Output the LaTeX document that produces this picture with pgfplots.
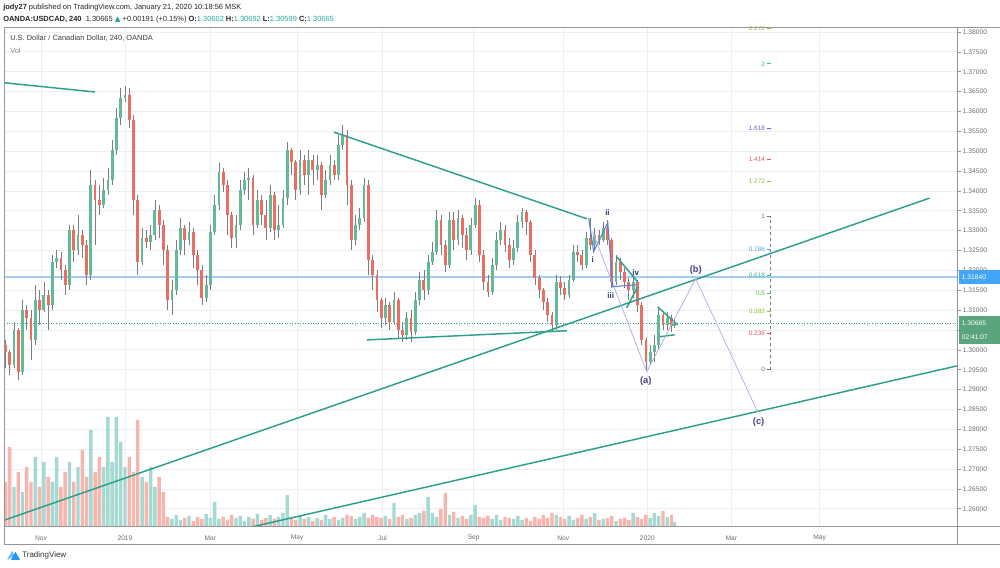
\documentclass[border=0pt]{standalone}
\usepackage{pgfplots}
\pgfplotsset{compat=1.18}
\usepackage{pgfplotstable}
\usepackage{fontspec}
\setmainfont{Liberation Sans}
\newfontfamily\symfont{DejaVu Sans}
\newcommand{\fs}[1]{\fontsize{#1}{#1}\selectfont}

\definecolor{upc}{RGB}{100,185,150}
\definecolor{dnc}{RGB}{235,110,100}
\definecolor{wick}{RGB}{125,125,125}
\definecolor{upv}{RGB}{165,218,210}
\definecolor{dnv}{RGB}{248,180,175}
\definecolor{trend}{RGB}{45,160,140}
\definecolor{gridc}{RGB}{236,238,242}
\definecolor{labc}{RGB}{110,110,110}
\definecolor{framec}{RGB}{150,150,150}
\definecolor{tvgreen}{RGB}{38,166,154}
\definecolor{hblue}{RGB}{160,205,245}
\definecolor{boxblue}{RGB}{66,165,245}
\definecolor{boxgreen}{RGB}{90,165,125}
\definecolor{wavepur}{RGB}{75,65,135}
\definecolor{wavenavy}{RGB}{40,60,115}
\definecolor{lav}{RGB}{185,175,235}
\definecolor{subblue}{RGB}{95,125,215}
\definecolor{fibgray}{RGB}{120,120,120}
\definecolor{fibred}{RGB}{228,90,90}
\definecolor{fibyg}{RGB}{150,195,60}
\definecolor{fibgreen}{RGB}{90,200,80}
\definecolor{fibteal}{RGB}{60,185,150}
\definecolor{fibblue}{RGB}{95,160,220}
\definecolor{fibviolet}{RGB}{100,100,220}
\definecolor{logoblue}{RGB}{33,150,243}

\pgfplotstableread{
d o h l c v
6 1.3013 1.3025 1.2955 1.2995 45
9 1.2995 1.3000 1.2937 1.2962 80
12 1.2962 1.3070 1.2955 1.3050 40
15 1.3050 1.3055 1.2925 1.2945 55
18 1.2945 1.3126 1.2937 1.3101 35
21 1.3101 1.3113 1.3050 1.3081 60
24 1.3081 1.3101 1.2975 1.3025 45
27 1.3025 1.3164 1.3013 1.3126 70
30 1.3126 1.3151 1.3063 1.3101 40
33 1.3101 1.3171 1.3096 1.3138 65
36 1.3138 1.3151 1.3050 1.3113 50
39 1.3113 1.3239 1.3101 1.3221 45
42 1.3221 1.3252 1.3206 1.3232 70
45 1.3232 1.3247 1.3176 1.3201 40
48 1.3201 1.3214 1.3138 1.3164 55
51 1.3164 1.3315 1.3151 1.3302 65
54 1.3302 1.3315 1.3221 1.3252 45
57 1.3252 1.3340 1.3239 1.3289 60
60 1.3289 1.3302 1.3232 1.3264 77
63 1.3264 1.3277 1.3164 1.3189 50
66 1.3189 1.3453 1.3176 1.3415 97
69 1.3415 1.3428 1.3264 1.3377 55
72 1.3377 1.3415 1.3340 1.3365 70
75 1.3365 1.3433 1.3357 1.3403 60
78 1.3403 1.3458 1.3390 1.3428 110
81 1.3428 1.3528 1.3415 1.3503 65
84 1.3503 1.3609 1.3491 1.3584 110
87 1.3584 1.3659 1.3566 1.3634 85
90 1.3634 1.3664 1.3624 1.3642 60
93 1.3642 1.3659 1.3558 1.3579 70
96 1.3579 1.3591 1.3340 1.3377 55
99 1.3377 1.3390 1.3189 1.3221 107
102 1.3221 1.3307 1.3214 1.3282 50
105 1.3282 1.3302 1.3257 1.3272 45
108 1.3272 1.3315 1.3252 1.3289 60
111 1.3289 1.3377 1.3277 1.3352 40
114 1.3352 1.3365 1.3282 1.3315 50
117 1.3315 1.3327 1.3214 1.3252 35
120 1.3252 1.3264 1.3101 1.3126 10
123 1.3126 1.3176 1.3088 1.3151 8
126 1.3151 1.3277 1.3138 1.3252 12
129 1.3252 1.3332 1.3239 1.3307 7
132 1.3307 1.3315 1.3239 1.3277 9
135 1.3277 1.3322 1.3264 1.3297 11
138 1.3297 1.3307 1.3206 1.3239 6
141 1.3239 1.3252 1.3164 1.3201 10
144 1.3201 1.3214 1.3113 1.3131 8
147 1.3131 1.3189 1.3121 1.3164 13
150 1.3164 1.3315 1.3151 1.3297 9
153 1.3297 1.3390 1.3289 1.3365 25
156 1.3365 1.3470 1.3352 1.3448 8
159 1.3448 1.3458 1.3398 1.3415 10
162 1.3415 1.3428 1.3289 1.3340 7
165 1.3340 1.3347 1.3257 1.3282 12
168 1.3282 1.3340 1.3257 1.3315 9
171 1.3315 1.3428 1.3302 1.3403 11
174 1.3403 1.3448 1.3390 1.3428 6
177 1.3428 1.3458 1.3377 1.3433 10
180 1.3433 1.3440 1.3289 1.3315 8
183 1.3315 1.3403 1.3307 1.3377 13
186 1.3377 1.3390 1.3315 1.3340 7
189 1.3340 1.3377 1.3277 1.3307 9
192 1.3307 1.3415 1.3297 1.3390 12
195 1.3390 1.3398 1.3277 1.3302 8
198 1.3302 1.3365 1.3282 1.3315 10
201 1.3315 1.3403 1.3307 1.3382 14
204 1.3382 1.3523 1.3365 1.3503 32
207 1.3503 1.3508 1.3440 1.3473 9
210 1.3473 1.3478 1.3377 1.3403 7
213 1.3403 1.3503 1.3390 1.3478 11
216 1.3478 1.3491 1.3415 1.3440 8
219 1.3440 1.3503 1.3390 1.3478 10
222 1.3478 1.3491 1.3415 1.3453 6
225 1.3453 1.3491 1.3428 1.3465 9
228 1.3465 1.3473 1.3352 1.3390 7
231 1.3390 1.3453 1.3382 1.3428 12
234 1.3428 1.3491 1.3415 1.3465 8
237 1.3465 1.3478 1.3428 1.3440 10
240 1.3440 1.3541 1.3428 1.3516 7
243 1.3516 1.3566 1.3503 1.3541 9
246 1.3541 1.3553 1.3365 1.3415 12
249 1.3415 1.3428 1.3252 1.3277 11
252 1.3277 1.3340 1.3264 1.3315 8
255 1.3315 1.3357 1.3302 1.3332 10
258 1.3332 1.3433 1.3322 1.3415 14
261 1.3415 1.3428 1.3189 1.3226 9
264 1.3226 1.3239 1.3151 1.3189 12
267 1.3189 1.3201 1.3096 1.3126 10
270 1.3126 1.3131 1.3055 1.3081 9
273 1.3081 1.3131 1.3063 1.3113 11
276 1.3113 1.3121 1.3050 1.3070 8
279 1.3070 1.3146 1.3063 1.3126 24
282 1.3126 1.3131 1.3030 1.3050 10
285 1.3050 1.3070 1.3020 1.3038 12
288 1.3038 1.3096 1.3025 1.3081 8
291 1.3081 1.3101 1.3020 1.3045 9
294 1.3045 1.3146 1.3038 1.3126 12
297 1.3126 1.3196 1.3113 1.3176 14
300 1.3176 1.3201 1.3126 1.3151 16
303 1.3151 1.3239 1.3138 1.3221 30
306 1.3221 1.3272 1.3214 1.3247 14
309 1.3247 1.3352 1.3239 1.3327 10
312 1.3327 1.3340 1.3239 1.3264 18
315 1.3264 1.3277 1.3196 1.3214 34
318 1.3214 1.3347 1.3206 1.3327 12
321 1.3327 1.3347 1.3252 1.3277 15
324 1.3277 1.3352 1.3264 1.3332 9
327 1.3332 1.3340 1.3257 1.3289 11
330 1.3289 1.3307 1.3226 1.3252 8
333 1.3252 1.3332 1.3239 1.3315 12
336 1.3315 1.3382 1.3307 1.3365 22
339 1.3365 1.3377 1.3221 1.3239 10
342 1.3239 1.3252 1.3151 1.3171 9
345 1.3171 1.3189 1.3133 1.3146 11
348 1.3146 1.3232 1.3138 1.3214 8
351 1.3214 1.3297 1.3201 1.3277 12
354 1.3277 1.3322 1.3264 1.3302 7
357 1.3302 1.3315 1.3247 1.3264 10
360 1.3264 1.3282 1.3206 1.3226 9
363 1.3226 1.3277 1.3214 1.3257 8
366 1.3257 1.3340 1.3247 1.3322 11
369 1.3322 1.3357 1.3307 1.3347 7
372 1.3347 1.3352 1.3289 1.3322 9
375 1.3322 1.3327 1.3221 1.3239 6
378 1.3239 1.3252 1.3164 1.3181 10
381 1.3181 1.3189 1.3131 1.3151 8
384 1.3151 1.3156 1.3101 1.3121 12
387 1.3121 1.3131 1.3070 1.3088 9
390 1.3088 1.3096 1.3045 1.3063 14
393 1.3063 1.3189 1.3050 1.3171 12
396 1.3171 1.3186 1.3138 1.3156 10
399 1.3156 1.3171 1.3126 1.3138 8
402 1.3138 1.3189 1.3131 1.3176 11
405 1.3176 1.3264 1.3171 1.3247 7
408 1.3247 1.3264 1.3221 1.3239 9
411 1.3239 1.3252 1.3201 1.3214 12
414 1.3214 1.3297 1.3206 1.3282 8
417 1.3282 1.3332 1.3252 1.3264 10
420 1.3264 1.3307 1.3252 1.3289 14
423 1.3289 1.3302 1.3264 1.3277 7
426 1.3277 1.3322 1.3272 1.3307 8
429 1.3307 1.3327 1.3264 1.3277 9
432 1.3277 1.3282 1.3156 1.3171 11
435 1.3171 1.3239 1.3164 1.3221 6
438 1.3221 1.3232 1.3176 1.3196 8
441 1.3196 1.3206 1.3156 1.3171 9
444 1.3171 1.3181 1.3126 1.3151 7
447 1.3151 1.3189 1.3131 1.3171 14
450 1.3171 1.3176 1.3096 1.3113 10
453 1.3113 1.3121 1.3013 1.3025 8
456 1.3025 1.3030 1.2950 1.2970 12
459 1.2970 1.3013 1.2962 1.2995 9
462 1.2995 1.3038 1.2970 1.3013 14
465 1.3013 1.3106 1.3000 1.3088 11
468 1.3088 1.3096 1.3050 1.3063 16
471 1.3063 1.3096 1.3050 1.3081 10
474 1.3081 1.3088 1.3045 1.3060 12
476 1.3060 1.3081 1.3055 1.3068 5
}\candles

\pgfplotsset{
  tvbase/.style={
    at={(3pt,30.75pt)}, anchor=south west, scale only axis,
    width=715.5pt, height=375pt,
    xmin=5, xmax=675, ymin=1.25547, ymax=1.38126,
  },
}
\newcommand{\fib}[3]{%
  \addplot[#3, line width=0.7pt] coordinates {(540.8,#2) (543.6,#2)};
  \node[anchor=east, inner sep=0pt, text=#3, font=\fs{4.8}] at (axis cs:539.8,#2) {#1};
}

\begin{document}
\begin{tikzpicture}
\begin{scope}[x=0.75pt,y=0.75pt]
\useasboundingbox (0,0) rectangle (1000,568);
\fill[white] (0,0) rectangle (1000,568);
\end{scope}

% ---- axis 1: grid and tick labels
\begin{axis}[tvbase, axis line style={draw=none},
  xtick={31,90,150,211,271,335,398,457,516,578},
  xticklabels={Nov,2019,Mar,May,Jul,Sep,Nov,2020,Mar,May},
  ytick={1.26,1.265,1.27,1.275,1.28,1.285,1.29,1.295,1.30,1.305,1.31,1.315,1.32,1.325,1.33,1.335,1.34,1.345,1.35,1.355,1.36,1.365,1.37,1.375,1.38},
  xmajorgrids, ymajorgrids, grid style={gridc, line width=0.6pt},
  yticklabel pos=right, ytick pos=right, xtick pos=bottom,
  tick align=outside, major tick length=2.25pt,
  xtick style={draw=none}, ytick style={framec, line width=0.5pt},
  scaled y ticks=false,
  yticklabel style={/pgf/number format/fixed, /pgf/number format/fixed zerofill,
    /pgf/number format/precision=5, /pgf/number format/assume math mode=true,
    anchor=west, inner sep=0pt, xshift=1.5pt, font=\fs{5}, text=labc},
  xticklabel style={anchor=center, inner sep=0pt, yshift=-6pt, font=\fs{5}, text=labc},
]
\end{axis}

% ---- axis 2: volume
\begin{axis}[tvbase, ymin=0, ymax=500, hide axis]
\addplot[ybar, bar shift=0pt, bar width=2.4, fill=dnv, draw=none,
  restrict expr to domain={\thisrow{c}-\thisrow{o}}{-1:-0.00001}]
  table[x=d, y=v] {\candles};
\addplot[ybar, bar shift=0pt, bar width=2.4, fill=upv, draw=none,
  restrict expr to domain={\thisrow{c}-\thisrow{o}}{0:1}]
  table[x=d, y=v] {\candles};
\end{axis}

% ---- axis 3: price
\begin{axis}[tvbase, hide axis]
\addplot[hblue, line width=1.5pt] coordinates {(5,1.3184) (675,1.3184)};
\addplot[tvgreen, line width=0.5pt, dash pattern=on 0.75pt off 1.2pt] coordinates {(5,1.30665) (675,1.30665)};

% wicks
\addplot[draw=none, mark=none,
  error bars/.cd, y dir=both, y explicit, error mark=none,
  error bar style={line width=0.5pt, draw=wick}]
  table[x=d, y expr={(\thisrow{h}+\thisrow{l})/2}, y error expr={(\thisrow{h}-\thisrow{l})/2}] {\candles};
% bodies
\addplot[draw=none, mark=none,
  restrict expr to domain={\thisrow{c}-\thisrow{o}}{-1:-0.00001},
  error bars/.cd, y dir=both, y explicit, error mark=none,
  error bar style={line width=2.1pt, draw=dnc}]
  table[x=d, y expr={(\thisrow{o}+\thisrow{c})/2}, y error expr={abs(\thisrow{o}-\thisrow{c})/2}] {\candles};
\addplot[draw=none, mark=none,
  restrict expr to domain={\thisrow{c}-\thisrow{o}}{0:1},
  error bars/.cd, y dir=both, y explicit, error mark=none,
  error bar style={line width=2.1pt, draw=upc}]
  table[x=d, y expr={(\thisrow{o}+\thisrow{c})/2}, y error expr={abs(\thisrow{o}-\thisrow{c})/2}] {\candles};

% trend lines
\addplot[trend, line width=1.1pt] coordinates {(5.7,1.3672) (68.9,1.3649)};
\addplot[trend, line width=1.1pt] coordinates {(236.8,1.3548) (414.4,1.3330)};
\addplot[trend, line width=1.1pt] coordinates {(259.9,1.3025) (400.4,1.3048)};
\addplot[trend, line width=1.1pt] coordinates {(5.7,1.2572) (655.3,1.3382)};
\addplot[trend, line width=1.1pt] coordinates {(179.9,1.2555) (675,1.2960)};
\addplot[trend, line width=1.1pt] coordinates {(435.5,1.3234) (450.2,1.3171)};
\addplot[trend, line width=1.1pt] coordinates {(442.5,1.3106) (450.2,1.3159)};
\addplot[trend, line width=1.1pt] coordinates {(464.3,1.3108) (478.3,1.3063)};
\addplot[trend, line width=1.1pt] coordinates {(465.7,1.3033) (476.2,1.3038)};

% wave paths
\addplot[lav, line width=0.6pt] coordinates {(418.6,1.3297) (456.6,1.2945) (491,1.3179) (534.5,1.2844)};
\addplot[subblue, line width=0.8pt] coordinates {(415.8,1.3332) (419.3,1.3247) (429.2,1.3320) (432.7,1.3159) (449.5,1.3164)};

% fib
\addplot[fibgray, line width=0.6pt, dash pattern=on 2.2pt off 2.2pt] coordinates {(543.6,1.2950) (543.6,1.3335)};
\fib{2.272}{1.3810}{fibyg}
\fib{2}{1.3720}{fibteal}
\fib{1.618}{1.35579}{fibviolet}
\fib{1.414}{1.34794}{fibred}
\fib{1.272}{1.34247}{fibyg}
\fib{1}{1.3335}{fibgray}
\fib{0.786}{1.32526}{fibblue}
\fib{0.618}{1.31879}{fibteal}
\fib{0.5}{1.31425}{fibgreen}
\fib{0.382}{1.30971}{fibyg}
\fib{0.236}{1.30409}{fibred}
\fib{0}{1.2950}{fibgray}

% wave labels
\node[font=\fs{6}\bfseries, text=wavenavy] at (axis cs:429,1.3345) {ii};
\node[font=\fs{6}\bfseries, text=wavenavy] at (axis cs:418.6,1.3226) {i};
\node[font=\fs{6}\bfseries, text=wavenavy] at (axis cs:431.3,1.3136) {iii};
\node[font=\fs{6}\bfseries, text=wavenavy] at (axis cs:448.8,1.3194) {iv};
\node[font=\fs{7}\bfseries, text=wavepur] at (axis cs:455.9,1.2922) {(a)};
\node[font=\fs{7}\bfseries, text=wavepur] at (axis cs:491,1.3201) {(b)};
\node[font=\fs{7}\bfseries, text=wavepur] at (axis cs:535.2,1.2819) {(c)};
\end{axis}

\begin{scope}[x=0.75pt,y=0.75pt]
% ---- frame
\draw[framec, line width=0.6pt] (4,541) -- (1000,541);
\draw[framec, line width=0.6pt] (4,541) -- (4,23);
\draw[framec, line width=0.6pt] (958,541) -- (958,23);
\draw[framec, line width=0.6pt] (4,41) -- (1000,41);
\draw[framec, line width=0.6pt] (4,23) -- (1000,23);

% ---- price boxes
\fill[boxblue] (959,284) rectangle (1000,298);
\node[anchor=west, inner sep=0pt, text=white, font=\fs{5}] at (962,291) {1.31840};
\fill[boxgreen] (959,238) rectangle (1000,252);
\node[anchor=west, inner sep=0pt, text=white, font=\fs{5}] at (962,245) {1.30665};
\fill[boxgreen] (959,224) rectangle (1000,237.5);
\node[anchor=west, inner sep=0pt, text=white, font=\fs{5}] at (962,231) {02:41:07};

% ---- header
\node[anchor=west, inner sep=0pt, font=\fs{5.6}, text=black!85] at (3,560)
  {{\bfseries jody27} published on TradingView.com, January 21, 2020 10:18:56 MSK};
\node[anchor=west, inner sep=0pt, font=\fs{5.6}, text=black!85] at (3,548)
  {{\bfseries OANDA:USDCAD, 240}\ \ 1.30665 {\color{tvgreen}\symfont ▲} +0.00191 (+0.15\%) {\bfseries O:}{\color{tvgreen}1.30602} {\bfseries H:}{\color{tvgreen}1.30692} {\bfseries L:}{\color{tvgreen}1.30599} {\bfseries C:}{\color{tvgreen}1.30665}};
\node[anchor=west, inner sep=0pt, font=\fs{5.6}, text=black!75] at (10,530) {U.S. Dollar / Canadian Dollar, 240, OANDA};
\node[anchor=west, inner sep=0pt, font=\fs{5.6}, text=black!45] at (10,517) {Vol};

% ---- footer
\fill[logoblue!60] (7,8) -- (12,17) -- (15,12) -- cycle;
\fill[logoblue] (11,8) -- (15.5,16) -- (20,8) -- cycle;
\node[anchor=west, inner sep=0pt, font=\fs{6}, text=black!80] at (22,12) {TradingView};
\end{scope}
\end{tikzpicture}
\end{document}
